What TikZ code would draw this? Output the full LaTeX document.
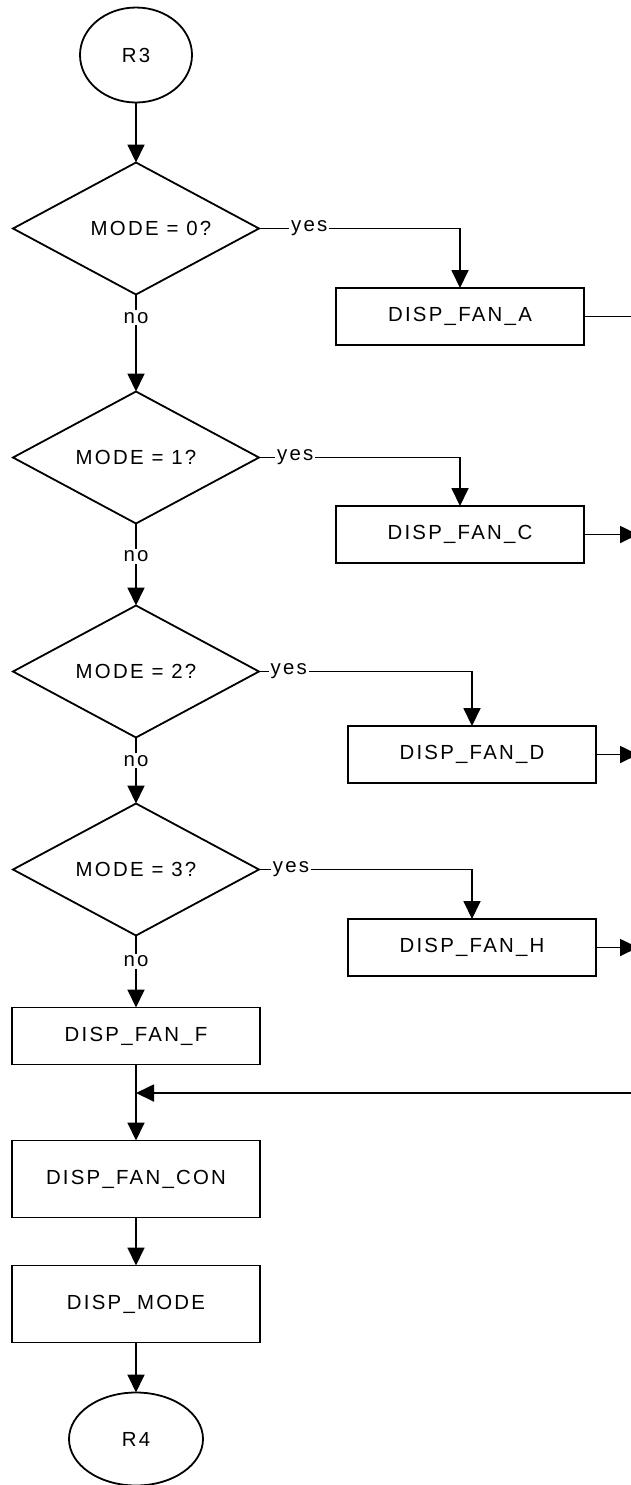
\documentclass[tikz,border=0pt]{standalone}
\usepackage{fontspec}
\setsansfont{Liberation Sans}[LetterSpace=11]
\usetikzlibrary{arrows.meta,positioning,shapes.geometric}
\newcommand{\chartsize}{\fontsize{10.2pt}{12pt}\selectfont}
\tikzset{
  term/.style={draw, ellipse, line width=0.9pt, inner sep=0pt, outer sep=0pt, font=\sffamily\chartsize},
  test/.style={draw, diamond, aspect=1.86, line width=0.9pt, minimum width=123pt, minimum height=66pt, inner sep=0pt, outer sep=0pt, font=\sffamily\chartsize},
  task/.style={draw, line width=0.9pt, minimum width=124pt, minimum height=28.5pt, inner sep=0pt, outer sep=0pt, font=\sffamily\chartsize},
  arrow/.style={-{Triangle[length=9pt, width=8.5pt]}, line width=0.9pt},
  link/.style={line width=0.9pt},
  lbl/.style={fill=white, inner sep=1pt, font=\sffamily\chartsize}
}

\begin{document}
\begin{tikzpicture}
  \useasboundingbox (0,0) rectangle (315.5pt,-742.5pt);
  \coordinate (edge) at (319pt,0);
  \coordinate (merge) at (315.5pt,-546.5pt);

  \node[term, minimum width=56pt, minimum height=47.5pt] (r3) at (68pt,-27.5pt) {R3};
  \node[test, below=30pt of r3] (mode0) {\hspace*{15pt}MODE = 0?};
  \node[test, below=48.5pt of mode0] (mode1) {MODE = 1?};
  \node[test, below=41pt of mode1] (mode2) {MODE = 2?};
  \node[test, below=33pt of mode2] (mode3) {MODE = 3?};
  \node[task, below=36pt of mode3] (fanF) {DISP\_FAN\_F};
  \node[task, below=38pt of fanF, minimum height=38.5pt] (fanCon) {DISP\_FAN\_CON};
  \node[task, below=24pt of fanCon, minimum height=38.5pt] (dispMode) {DISP\_MODE};
  \node[term, below=25pt of dispMode, minimum width=67pt, minimum height=46.5pt] (r4) {R4};

  \node[task, right=38.5pt of mode0, yshift=-44pt] (fanA) {DISP\_FAN\_A};
  \node[task, right=38.5pt of mode1, yshift=-38.5pt] (fanC) {DISP\_FAN\_C};
  \node[task, right=44.5pt of mode2, yshift=-41.5pt] (fanD) {DISP\_FAN\_D};
  \node[task, right=44.5pt of mode3, yshift=-39pt] (fanH) {DISP\_FAN\_H};

  \draw[arrow] (r3) -- (mode0);
  \draw[arrow] (mode0) -- node[lbl, pos=0.24] {no} (mode1);
  \draw[arrow] (mode1) -- node[lbl, pos=0.4] {no} (mode2);
  \draw[arrow] (mode2) -- node[lbl, pos=0.35] {no} (mode3);
  \draw[arrow] (mode3) -- node[lbl, pos=0.36] {no} (fanF);
  \draw[arrow] (mode0.east) -| node[lbl, pos=0.125] {yes} (fanA.north);
  \draw[arrow] (mode1.east) -| node[lbl, pos=0.09] {yes} (fanC.north);
  \draw[arrow] (mode2.east) -| node[lbl, pos=0.07] {yes} (fanD.north);
  \draw[arrow] (mode3.east) -| node[lbl, pos=0.075] {yes} (fanH.north);
  \draw[link] (fanA.east) -- (fanA.east -| edge);
  \draw[arrow] (fanC.east) -- (fanC.east -| edge);
  \draw[arrow] (fanD.east) -- (fanD.east -| edge);
  \draw[arrow] (fanH.east) -- (fanH.east -| edge);
  \draw[arrow] (fanF) -- (fanCon);
  \draw[arrow] (merge) -- (merge -| fanF.south);
  \draw[arrow] (fanCon) -- (dispMode);
  \draw[arrow] (dispMode) -- (r4);
\end{tikzpicture}
\end{document}
